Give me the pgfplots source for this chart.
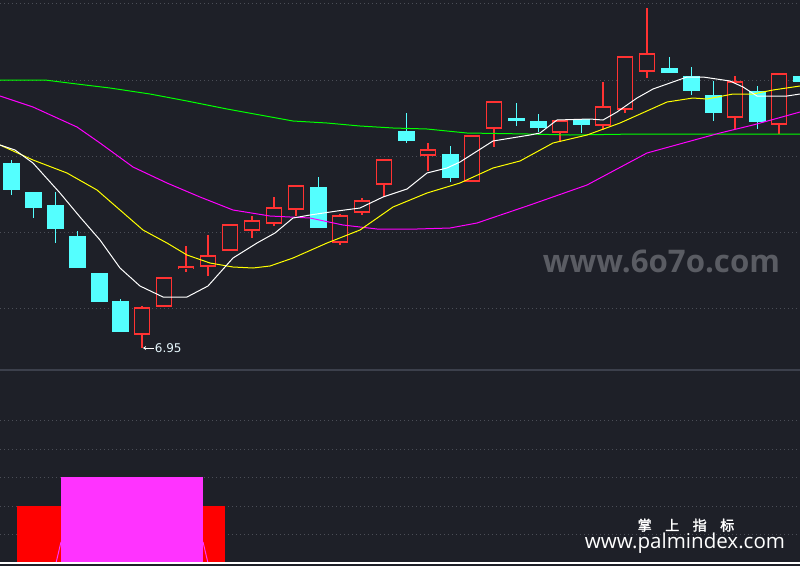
\documentclass[border=0pt]{standalone}
\usepackage{fontspec}
\setmainfont{DejaVu Sans}
\newfontfamily\cjk{Noto Sans CJK SC}[AutoFakeBold=2]
\newfontfamily\wm{Open Sans}
\usepackage{graphicx}
\usepackage{pgfplots}
\pgfplotsset{compat=1.18}
\usepackage{pgfplotstable}
\usetikzlibrary{arrows.meta}
\definecolor{bg}{HTML}{1E2028}
\definecolor{candcyan}{HTML}{54FFFF}
\definecolor{candred}{HTML}{FF3232}
\definecolor{gridc}{HTML}{4B4E57}
\definecolor{sepc}{HTML}{3C404C}
\definecolor{wmgray}{HTML}{5A5C63}
\definecolor{ma1}{HTML}{FFFFFF}
\definecolor{ma2}{HTML}{FFFF00}
\definecolor{ma3}{HTML}{FF00FF}
\definecolor{ma4}{HTML}{00FF00}
\definecolor{volred}{HTML}{FF0000}
\definecolor{volmag}{HTML}{FF33FF}

% candles in pixel coordinates: x centre, body top, body bottom, wick top, wick bottom
\pgfplotstableread{
x bt bb wt wb
11.5 163 190 160 195
33.5 192 208 192 218
55.5 205 229 192 243
77.5 236 268 231 268
99.5 273 302 273 302
120.5 301 332 299 332
318.5 187 228 177 228
406.5 131 141 113 143
450.5 154 178 146 182
516.5 118 121 103 126
538.5 121 128 114 132
581.5 119 125 119 133
669.5 68 73 57 73
691.5 76 91 67 95
713.5 95 113 81 121
757.5 91 122 86 129
801 76 82 76 82
}\cyancandles

\pgfplotstableread{
x bt bb wt wb
142 307 335 306 348
164 277 307 277 307
186 266 269 246 272
208 255 267 235 276
230 224 251 224 251
252 220 231 216 238
274 207 224 197 226
296 185 210 185 216
340 215 243 214 245
362 200 213 198 215
384 159 185 159 197
428 149 156 143 171
472 135 182 135 182
494 101 129 101 147
560 120 133 120 142
603 106 126 82 130
625 56 110 56 113
647 53 72 8 78
735 81 118 76 129
779 73 125 73 134
}\redcandles

\pgfplotsset{
  gridline/.style={gridc, line width=1pt, dash pattern=on 1pt off 3pt},
}

\begin{document}
\begin{tikzpicture}
\begin{axis}[
  width=800pt, height=566pt, scale only axis,
  xmin=0, xmax=800, ymin=0, ymax=566, y dir=reverse,
  axis line style={draw=none},
  xtick=\empty, ytick=\empty,
  axis background/.style={fill=bg},
]
% dotted grid lines
\addplot[gridline] coordinates {(0,3) (800,3)};
\addplot[gridline] coordinates {(0,80) (800,80)};
\addplot[gridline] coordinates {(0,156) (800,156)};
\addplot[gridline] coordinates {(0,232) (800,232)};
\addplot[gridline] coordinates {(0,308) (800,308)};
\addplot[gridline] coordinates {(0,420) (800,420)};
\addplot[gridline] coordinates {(0,449) (800,449)};
\addplot[gridline] coordinates {(0,477) (800,477)};
\addplot[gridline] coordinates {(0,506) (800,506)};
\addplot[gridline] coordinates {(0,534) (800,534)};
% panel separator
\addplot[sepc, line width=1.2pt] coordinates {(0,370) (800,370)};

% wicks
\addplot[candcyan, line width=1.3pt, mark=none, quiver={u=0, v=\thisrow{wb}-\thisrow{wt}}]
  table[x=x, y=wt] \cyancandles;
\addplot[candred, line width=1.3pt, mark=none, quiver={u=0, v=\thisrow{wb}-\thisrow{wt}}]
  table[x=x, y=wt] \redcandles;
% bodies
\addplot[candcyan, line width=16.5pt, mark=none, quiver={u=0, v=\thisrow{bb}-\thisrow{bt}}]
  table[x=x, y=bt] \cyancandles;
\addplot[candred, line width=16.5pt, mark=none, quiver={u=0, v=\thisrow{bb}-\thisrow{bt}}]
  table[x=x, y=bt] \redcandles;
\addplot[bg, line width=13.3pt, mark=none, quiver={u=0, v={max(\thisrow{bb}-\thisrow{bt}-3.2,0.1)}}]
  table[x=x, y expr=\thisrow{bt}+1.6] \redcandles;

% moving averages
\addplot[ma4, line width=1pt] coordinates {(0,80) (45,80) (77,84) (110,88) (150,94) (187,101) (227,109) (260,115) (293,121) (327,123) (360,126) (393,128) (427,129) (467,133) (528,134) (570,135) (637,134) (800,134)};
\addplot[ma3, line width=1pt] coordinates {(0,96) (33,107) (77,127) (100,143) (133,167) (167,183) (200,197) (233,210) (270,216) (310,218) (343,225) (377,229) (417,229) (450,228) (477,223) (530,205) (587,185) (647,153) (687,142) (720,133) (753,125) (800,112)};
\addplot[ma2, line width=1pt] coordinates {(0,145) (33,160) (67,173) (97,190) (120,210) (143,230) (167,243) (187,255) (210,263) (233,267) (253,268) (270,266) (293,258) (327,243) (360,230) (393,207) (427,193) (460,183) (493,168) (520,161) (553,143) (587,135) (620,123) (667,102) (693,98) (707,99) (733,94) (753,94) (773,90) (800,86)};
\addplot[ma1, line width=1pt] coordinates {(0,145) (15,150) (33,163) (60,193) (80,217) (100,240) (120,268) (140,286) (163,297) (187,297) (208,286) (233,258) (257,243) (275,233) (293,218) (310,215) (337,211) (360,208) (383,197) (407,189) (427,173) (447,168) (460,162) (493,141) (530,135) (540,133) (557,120) (590,119) (603,120) (617,112) (637,98) (653,89) (687,77) (703,77) (730,81) (743,87) (757,96) (787,96) (800,94)};

% lower panel
\addplot[fill=volred, draw=none] coordinates {(17,563) (17,506) (225,506) (225,563)} -- cycle;
\addplot[fill=volmag, draw=none] coordinates {(61,563) (61,477) (203,477) (203,563)} -- cycle;
\addplot[volmag, line width=1pt] coordinates {(56,563) (61,542)};
\addplot[volmag, line width=1pt] coordinates {(203,542) (208,563)};
\addplot[white, line width=2pt] coordinates {(0,563) (800,563)};

% annotations
\draw[white, line width=0.8pt, {Stealth[length=3pt,width=4pt]}-] (axis cs:143,348) -- (axis cs:154,348)
  node[anchor=west, inner sep=0.5pt, text=white!90!cyan, font=\fontsize{12}{12}\selectfont] {6.95};
\node[text=wmgray] at (axis cs:661.5,261) {\resizebox{237pt}{!}{\wm\bfseries www.6o7o.com}};
\node[text=white, inner sep=0pt, anchor=base] at (axis cs:686,530.5) {\fontsize{14}{14}\selectfont\cjk\bfseries 掌\hspace{13.5pt}上\hspace{13.5pt}指\hspace{13.5pt}标};
\node[text=white, inner sep=0pt, anchor=base] at (axis cs:685,548) {\resizebox{200pt}{!}{\wm www.palmindex.com}};
\end{axis}
\pgfresetboundingbox
\path (current axis.south west) rectangle (current axis.north east);
\end{tikzpicture}
\end{document}
